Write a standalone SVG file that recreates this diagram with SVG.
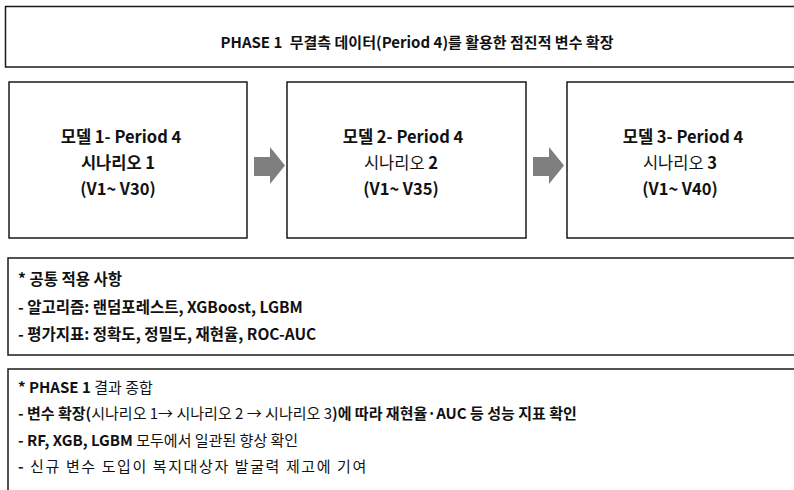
<svg xmlns="http://www.w3.org/2000/svg" width="794" height="490" viewBox="0 0 794 490">
<style>
text{font-family:"Noto Sans CJK KR","Noto Sans",sans-serif;fill:#111;}
.box{fill:#fff;stroke:#1a1a1a;stroke-width:1.5;}
.b{font-weight:700;}
.n{font-weight:400;}
.t{font-size:15px;font-weight:700;}
.m{font-size:16.5px;text-anchor:middle;}
.c{font-size:15.5px;font-weight:700;}
.s{font-size:15px;}
.arrow{fill:#7f7f7f;}
</style>
<rect width="794" height="490" fill="#fff"/>
<g id="title">
<rect class="box" x="5.5" y="6.5" width="800" height="60.5"/>
<text class="t" x="417" y="48" text-anchor="middle">PHASE 1 <tspan dx="4">무결측 데이터(Period 4)를 활용한 점진적 변수 확장</tspan></text>
</g>
<g id="model1">
<rect class="box" x="9" y="82" width="238" height="156"/>
<text class="m b" x="121" y="143">모델 1- Period 4</text>
<text class="m b" x="118" y="169">시나리오 1</text>
<text class="m b" x="118" y="195">(V1~ V30)</text>
</g>
<g id="model2">
<rect class="box" x="287" y="82" width="239" height="156"/>
<text class="m b" x="403" y="143">모델 2- Period 4</text>
<text class="m" x="401" y="169"><tspan class="n">시나리오 </tspan><tspan class="b">2</tspan></text>
<text class="m b" x="401" y="195">(V1~ V35)</text>
</g>
<g id="model3">
<rect class="box" x="567" y="82" width="240" height="156"/>
<text class="m b" x="683" y="143">모델 3- Period 4</text>
<text class="m" x="680" y="169"><tspan class="n">시나리오 </tspan><tspan class="b">3</tspan></text>
<text class="m b" x="680" y="195">(V1~ V40)</text>
</g>
<g id="connectors">
<polygon class="arrow" points="254,157 270,157 270,147 285,165.5 270,184 270,176 254,176"/>
<polygon class="arrow" points="533,157 549,157 549,147 564,165.5 549,184 549,176 533,176"/>
</g>
<g id="common">
<rect class="box" x="8" y="258" width="800" height="97"/>
<text class="c" x="18" y="285">* 공통 적용 사항</text>
<text class="c" x="18" y="313">- 알고리즘: 랜덤포레스트, XGBoost, LGBM</text>
<text class="c" x="18" y="340">- 평가지표: 정확도, 정밀도, 재현율, ROC-AUC</text>
</g>
<g id="summary">
<rect class="box" x="8" y="369" width="800" height="130"/>
<text class="s" x="18" y="393"><tspan class="b">* PHASE 1 </tspan><tspan class="n">결과 종합</tspan></text>
<text class="s" x="18" y="419"><tspan class="b">- 변수 확장(</tspan><tspan class="n">시나리오 1→ 시나리오 2 → 시나리오 3</tspan><tspan class="b">)에 따라 재현율·AUC 등 성능 지표 확인</tspan></text>
<text class="s" x="18" y="446"><tspan class="b">- RF, XGB, LGBM </tspan><tspan class="n">모두에서 일관된 향상 확인</tspan></text>
<text class="s n" x="18" y="472" letter-spacing="1.6"><tspan class="b">-</tspan> 신규 변수 도입이 복지대상자 발굴력 제고에 기여</text>
</g>
</svg>
